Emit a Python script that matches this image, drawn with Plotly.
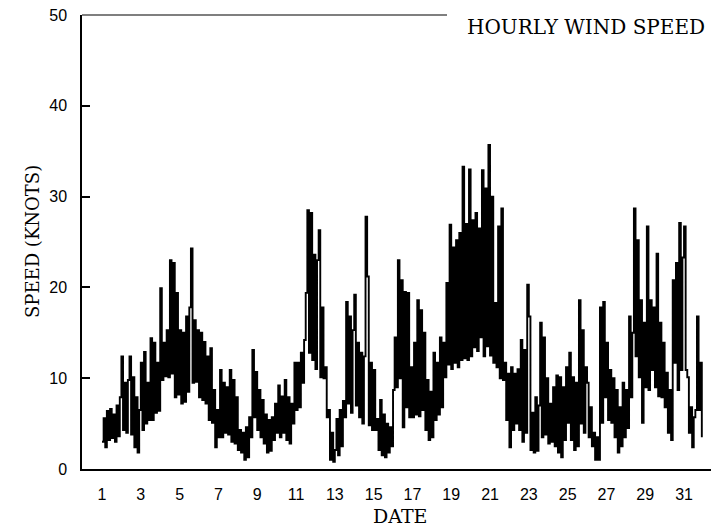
import plotly.graph_objects as go

# Hourly wind speed (knots), read every 2 hours (12 readings per day), days 1-31
week1 = [
    3.0, 5.6, 2.4, 6.4, 3.2, 6.6, 3.4, 6.0, 3.0, 7.0, 3.6, 7.9,        # 1
    12.4, 4.3, 9.5, 4.0, 9.8, 12.4, 3.8, 10.1, 2.4, 7.9, 1.8, 6.5,     # 2
    11.7, 4.3, 12.9, 5.0, 9.5, 5.4, 14.4, 5.4, 13.9, 6.2, 11.7, 6.4,   # 3
    19.9, 9.8, 13.9, 10.2, 15.3, 10.1, 23.0, 10.5, 22.7, 7.9, 19.4, 8.2,  # 4
    15.3, 7.2, 15.0, 7.4, 16.8, 8.5, 17.8, 24.3, 9.5, 16.4, 9.6, 15.3,  # 5
    7.9, 15.0, 7.6, 14.0, 7.2, 12.4, 5.4, 13.3, 5.1, 8.7, 2.4, 6.5,    # 6
    3.5, 10.9, 3.5, 9.5, 4.0, 9.0, 3.8, 10.9, 3.0, 9.8, 2.8, 7.9,      # 7
]
week2 = [
    2.1, 4.3, 1.8, 4.0, 1.0, 4.6, 1.3, 5.7, 3.5, 13.1, 5.7, 10.7,      # 8
    4.3, 8.7, 3.5, 7.6, 2.8, 6.0, 1.8, 5.4, 2.0, 5.7, 3.2, 7.2,        # 9
    4.0, 9.2, 3.5, 8.0, 4.0, 9.8, 3.2, 7.9, 2.8, 7.2, 5.0, 11.7,       # 10
    6.5, 11.7, 6.8, 12.8, 9.5, 14.2, 19.4, 28.5, 12.8, 28.2, 12.0, 23.6,  # 11
    11.0, 23.0, 26.3, 10.1, 17.8, 10.0, 11.2, 5.7, 6.5, 1.0, 4.0, 0.8,  # 12
    2.1, 5.5, 1.5, 6.5, 2.5, 7.5, 5.7, 18.4, 7.2, 16.8, 6.2, 15.3,     # 13
    19.2, 7.0, 13.9, 5.7, 12.8, 5.0, 12.4, 27.8, 21.2, 4.8, 11.7, 4.3,  # 14
]
week3 = [
    10.9, 4.3, 5.5, 2.1, 7.6, 1.5, 6.0, 1.3, 5.0, 1.8, 4.6, 2.5,       # 15
    8.7, 14.5, 9.0, 23.0, 10.0, 20.8, 4.6, 19.5, 6.8, 19.4, 5.7, 11.2,  # 16
    5.7, 13.9, 6.0, 18.6, 5.8, 17.5, 6.5, 15.0, 4.3, 9.8, 3.2, 8.5,    # 17
    3.5, 12.8, 5.4, 11.7, 6.0, 14.5, 6.8, 13.9, 10.1, 20.5, 11.5, 26.9,  # 18
    11.0, 24.4, 11.7, 25.2, 11.2, 26.0, 12.0, 33.3, 12.2, 27.0, 12.0, 33.0,  # 19
    12.4, 27.4, 13.4, 28.2, 13.0, 26.5, 14.5, 32.9, 12.4, 30.9, 13.5, 35.7,  # 20
    12.5, 30.0, 11.7, 18.3, 11.2, 26.7, 10.0, 28.7, 9.8, 11.7, 5.4, 10.5,  # 21
]
week4 = [
    2.4, 11.2, 4.3, 10.5, 5.0, 11.0, 4.3, 14.2, 3.0, 13.1, 4.0, 20.3,  # 22
    16.8, 2.1, 6.2, 1.8, 7.9, 2.0, 7.0, 16.1, 3.5, 14.5, 3.8, 10.0,    # 23
    2.8, 7.2, 3.0, 9.0, 2.5, 10.3, 1.8, 10.1, 1.3, 9.0, 3.2, 11.2,     # 24
    5.1, 12.8, 3.2, 10.1, 2.1, 9.5, 2.5, 18.6, 5.0, 15.3, 4.0, 11.2,   # 25
    9.5, 3.5, 6.8, 2.5, 4.0, 1.0, 3.5, 1.0, 17.8, 5.1, 18.4, 7.9,      # 26
    13.9, 5.4, 10.9, 5.1, 10.0, 3.5, 8.7, 1.8, 6.8, 2.5, 9.5, 3.5,     # 27
    8.7, 4.5, 16.8, 7.9, 15.0, 28.7, 12.4, 25.2, 10.1, 18.6, 5.1, 16.1,  # 28
]
week5 = [
    9.0, 26.7, 8.7, 18.6, 10.9, 17.8, 9.0, 23.7, 8.0, 16.1, 7.9, 13.9,  # 29
    6.8, 10.6, 4.0, 8.7, 3.2, 20.8, 11.7, 22.7, 8.7, 27.1, 10.9, 23.3,  # 30
    26.7, 10.9, 10.1, 4.0, 6.8, 2.4, 5.7, 6.5, 16.8, 6.5, 11.7, 3.5,   # 31
]

date_ticks = list(range(1, 32, 2))
speed_ticks = [0, 10, 20, 30, 40, 50]
STEP_HOURS = 2

speed = week1 + week2 + week3 + week4 + week5
dates = [1 + i * STEP_HOURS / 24 for i in range(len(speed))]

fig = go.Figure()
fig.add_trace(go.Scatter(
    x=dates, y=speed, mode="lines",
    line=dict(color="black", width=1.9, shape="hv"),
    hoverinfo="skip", showlegend=False,
))

L, T, W, H = 82, 15, 711, 526
pw = W - L
ph = 469 - T

fig.update_layout(
    width=W, height=H,
    margin=dict(l=L, r=0, t=T, b=H - 469, pad=0),
    paper_bgcolor="white", plot_bgcolor="white",
    xaxis=dict(
        range=[-0.031, 32.39],
        tickvals=date_ticks, ticktext=[str(t) for t in date_ticks],
        ticks="", showgrid=False, zeroline=False,
        showline=True, linecolor="black", linewidth=1.5,
        tickfont=dict(family="Liberation Sans", size=16, color="black"),
        ticklabelstandoff=10,
    ),
    yaxis=dict(
        range=[0, 50],
        tickvals=speed_ticks,
        ticks="inside", ticklen=8, tickwidth=1.5, tickcolor="black",
        showgrid=False, zeroline=False,
        showline=True, linecolor="black", linewidth=1.5,
        tickfont=dict(family="Liberation Sans", size=16, color="black"),
        ticklabelstandoff=10,
    ),
    shapes=[dict(
        type="line", xref="paper", yref="paper",
        x0=0, x1=(447 - L) / pw, y0=1, y1=1,
        line=dict(color="black", width=1.2),
    )],
    annotations=[
        dict(text="HOURLY WIND SPEED", xref="paper", yref="paper",
             x=(707 - L) / pw, y=(469 - 27) / ph, xanchor="right", yanchor="middle",
             showarrow=False,
             font=dict(family="DejaVu Serif", size=20, color="black")),
        dict(text="DATE", xref="paper", yref="paper",
             x=(400 - L) / pw, y=(469 - 516) / ph, xanchor="center", yanchor="middle",
             showarrow=False,
             font=dict(family="DejaVu Serif", size=19, color="black")),
        dict(text="SPEED (KNOTS)", xref="paper", yref="paper",
             x=(32 - L) / pw, y=0.5, xanchor="center", yanchor="middle",
             textangle=-90, showarrow=False,
             font=dict(family="DejaVu Serif", size=18, color="black")),
    ],
)

fig.write_html(
    "out.html",
    config={"displayModeBar": False},
    post_script="document.body.style.margin='0';document.body.style.overflow='hidden';",
)
